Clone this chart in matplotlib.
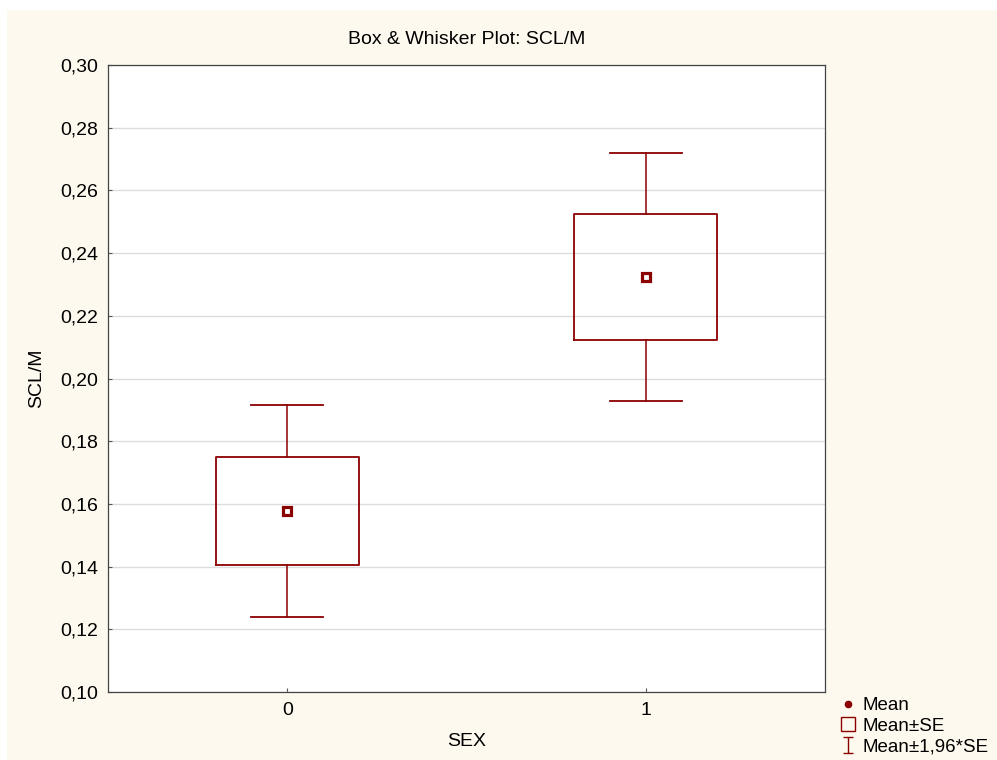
#!/usr/bin/env python3
"""
Box & whisker plot of SCL/M by SEX: mean, mean±SE, mean±1.96*SE.
"""

import matplotlib
matplotlib.use('Agg')
import matplotlib.pyplot as plt
from matplotlib.lines import Line2D
from matplotlib.patches import Rectangle
from matplotlib.path import Path

plt.rcParams['font.family'] = ['Liberation Sans', 'DejaVu Sans']

# Group summaries
groups = ['0', '1']
means = [0.1577, 0.2324]
se = [0.0172, 0.0202]

yticks = [0.10, 0.12, 0.14, 0.16, 0.18, 0.20, 0.22, 0.24, 0.26, 0.28, 0.30]
ytick_labels = ['0,10', '0,12', '0,14', '0,16', '0,18', '0,20',
                '0,22', '0,24', '0,26', '0,28', '0,30']
legend_labels = ['Mean', 'Mean±SE', 'Mean±1,96*SE']

maroon = '#8B0000'
cream = '#FEF9EE'
fs = 14

fig = plt.figure(figsize=(9.97, 7.6), dpi=100)
fig.patch.set_facecolor('white')
fig.add_artist(Rectangle((7 / 997, 0), 990 / 997, 750 / 760,
                         transform=fig.transFigure, facecolor=cream,
                         edgecolor='none', zorder=-10))

ax = fig.add_axes([108 / 997, 68 / 760, 717 / 997, 627 / 760])
ax.set_facecolor('white')

# Box = mean±SE, whiskers = mean±1.96*SE
stats = []
for g, m, s in zip(groups, means, se):
    stats.append({
        'label': g,
        'med': m,
        'q1': m - s,
        'q3': m + s,
        'whislo': m - 1.96 * s,
        'whishi': m + 1.96 * s,
    })

positions = list(range(len(groups)))
ax.bxp(stats, positions=positions, widths=0.4, capwidths=0.2,
       showfliers=False, patch_artist=False,
       boxprops=dict(color=maroon, linewidth=1.3),
       whiskerprops=dict(color=maroon, linewidth=1.1),
       capprops=dict(color=maroon, linewidth=1.3),
       medianprops=dict(linewidth=0))
ax.plot(positions, means, ls='none', marker='s', ms=6,
        mfc='white', mec=maroon, mew=2.3, zorder=5)

ax.set_xlim(-0.5, 1.5)
ax.set_ylim(0.10, 0.30)
ax.set_xticks(positions)
ax.set_xticklabels(groups)
ax.set_yticks(yticks)
ax.set_yticklabels(ytick_labels)
ax.grid(axis='y', color='#dcdcdc', linewidth=1)
ax.set_axisbelow(True)
ax.tick_params(direction='in', length=3, width=0.8, color='#555555',
               labelsize=fs, pad=7)

for side in ax.spines:
    ax.spines[side].set_color('#444444')
    ax.spines[side].set_linewidth(0.9)

ax.set_title('Box & Whisker Plot: SCL/M', fontsize=fs, pad=15)
ax.set_xlabel('SEX', fontsize=fs, labelpad=10)
ax.set_ylabel('SCL/M', fontsize=fs, labelpad=11)

# Legend symbols: dot, open box, I-beam whisker
ibeam = Path([(-0.6, 1), (0.6, 1), (0, 1), (0, -1), (-0.6, -1), (0.6, -1)],
             [Path.MOVETO, Path.LINETO, Path.MOVETO, Path.LINETO,
              Path.MOVETO, Path.LINETO])
handles = [
    Line2D([], [], ls='none', marker='o', ms=4.5, color=maroon),
    Line2D([], [], ls='none', marker='s', ms=10, mfc='none', mec=maroon, mew=1),
    Line2D([], [], ls='none', marker=ibeam, ms=11, mfc='none', mec=maroon, mew=1),
]
fig.legend(handles, legend_labels, loc='upper left',
           bbox_to_anchor=(840 / 997, 1 - 697 / 760),
           bbox_transform=fig.transFigure, frameon=False, fontsize=13.5,
           handlelength=0.9, handletextpad=0.3, labelspacing=0.2,
           borderpad=0, borderaxespad=0)

plt.savefig('out.png', dpi=100, facecolor=fig.get_facecolor())
